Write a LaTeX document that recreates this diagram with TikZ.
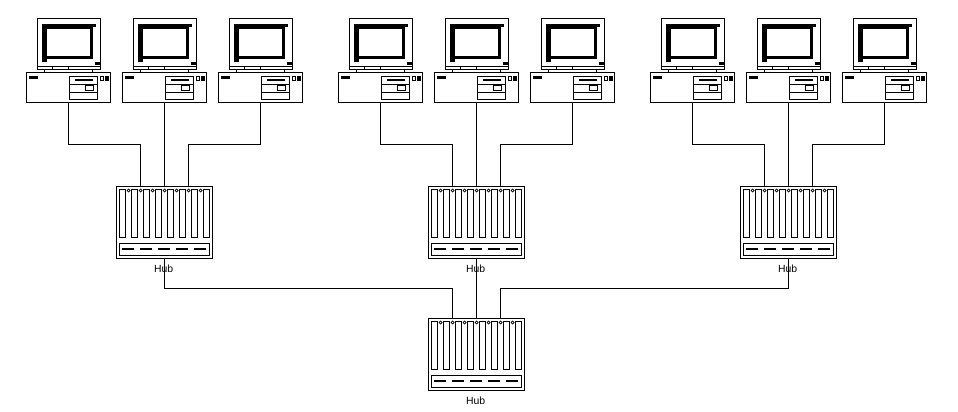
\documentclass[tikz,border=0pt]{standalone}
\usepackage{fontspec}
\setmainfont{Liberation Sans}
\tikzset{
  computer/.pic={
    \draw (11,0) rectangle (74,51);
    \draw (11,48) -- (74,48) (26,48) -- (26,51) (42,48) -- (42,51);
    \fill (15.5,5.5) rectangle (66.5,41);
    \fill (66,5.5) rectangle (69,8.5);
    \fill (15.5,41) rectangle (20.5,43.5);
    \fill[white] (20.5,11) rectangle (63,38);
    \fill (68.5,44) rectangle (73,46.5);
    \draw (18,51) -- (18,54) (66,51) -- (66,54);
    \node[unitbox,minimum width=84pt,minimum height=30pt] (-case) at (0,54) {};
    \fill (2.5,57.5) rectangle (11.5,60.5);
    \draw (43,58) rectangle (71,81);
    \draw (43,66) -- (71,66) (43,74) -- (71,74);
    \fill (48.5,60.2) rectangle (66.5,62.8);
    \draw (59,67) rectangle (67,72);
    \draw (74,58) rectangle (77,62);
    \fill (78.5,57.5) rectangle (82,62.5);
  },
  hubrack/.pic={
    \node[unitbox,minimum width=96pt,minimum height=72pt] (-box) at (0,0) {};
    \foreach \i in {0,...,7}
      \draw (3+12*\i,3) rectangle (9+12*\i,51);
    \foreach \i in {0,...,6}
      \draw[line width=0.7pt] (12.2+12*\i,4) circle[radius=1.5];
    \draw (3,57) rectangle (93,69);
    \foreach \i in {0,...,4}
      \draw[line width=2.5pt] (5.5+18*\i,62.5) -- (17.5+18*\i,62.5);
    \coordinate (-inl) at (24,0);
    \coordinate (-inr) at (72,0);
    \node[anchor=base,inner sep=0,font=\fontsize{10.4}{12}\selectfont] (-label) at (47.2,86) {Hub};
  },
  unitbox/.style={draw,anchor=north west,inner sep=0,outer sep=0},
  wire/.style={line width=1pt}
}
\begin{document}
\begin{tikzpicture}[x=1pt,y=-1pt,line width=1pt]
  \useasboundingbox (0,0) rectangle (958,412);
  \pic (pcA) at (26.5,18.5) {computer};
  \pic (pcB) at (122.5,18.5) {computer};
  \pic (pcC) at (218.5,18.5) {computer};
  \pic (pcD) at (338.5,18.5) {computer};
  \pic (pcE) at (434.5,18.5) {computer};
  \pic (pcF) at (530.5,18.5) {computer};
  \pic (pcG) at (650.5,18.5) {computer};
  \pic (pcH) at (746.5,18.5) {computer};
  \pic (pcI) at (842.5,18.5) {computer};
  \pic (hubA) at (116.5,186.5) {hubrack};
  \pic (hubB) at (428.5,186.5) {hubrack};
  \pic (hubC) at (740.5,186.5) {hubrack};
  \pic (hubD) at (428.5,318.5) {hubrack};
  % computers to their hubs
  \draw[wire] (pcA-case.south) -- ++(0,42) -| (hubA-inl);
  \draw[wire] (pcB-case.south) -- (hubA-box.north);
  \draw[wire] (pcC-case.south) -- ++(0,42) -| (hubA-inr);
  \draw[wire] (pcD-case.south) -- ++(0,42) -| (hubB-inl);
  \draw[wire] (pcE-case.south) -- (hubB-box.north);
  \draw[wire] (pcF-case.south) -- ++(0,42) -| (hubB-inr);
  \draw[wire] (pcG-case.south) -- ++(0,42) -| (hubC-inl);
  \draw[wire] (pcH-case.south) -- (hubC-box.north);
  \draw[wire] (pcI-case.south) -- ++(0,42) -| (hubC-inr);
  % hubs to the main hub
  \draw[wire] (hubA-box.south) -- ++(0,30) -| (hubD-inl);
  \draw[wire] (hubB-box.south) -- (hubD-box.north);
  \draw[wire] (hubC-box.south) -- ++(0,30) -| (hubD-inr);
\end{tikzpicture}
\end{document}
